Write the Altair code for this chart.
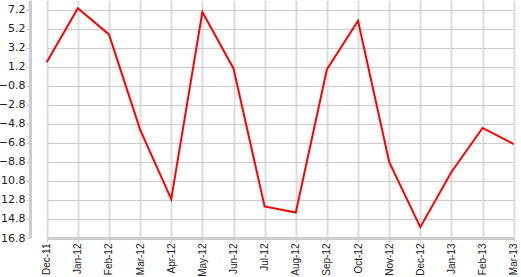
import altair as alt
import pandas as pd

months = ["Dec-11", "Jan-12", "Feb-12", "Mar-12", "Apr-12", "May-12", "Jun-12", "Jul-12",
          "Aug-12", "Sep-12", "Oct-12", "Nov-12", "Dec-12", "Jan-13", "Feb-13", "Mar-13"]
values = [1.67, 7.33, 4.59, -5.41, -12.72, 6.94, 1.01, -13.48,
          -14.12, 0.9, 6.02, -8.8, -15.66, -9.87, -5.24, -6.93]
y_ticks = [7.2, 5.2, 3.2, 1.2, -0.8, -2.8, -4.8, -6.8, -8.8, -10.8, -12.8, -14.8, -16.8]

df = pd.DataFrame({"month": months, "value": values})

chart = alt.Chart(df).mark_line(color="#ff0000", strokeWidth=2).encode(
    x=alt.X("month:N", sort=months, title=None,
            scale=alt.Scale(type="point", padding=0, range=[16.7, 483.7]),
            axis=alt.Axis(labelAngle=-90, grid=True, gridColor="#dddddd", gridWidth=2,
                          domainColor="#cccccc", domainWidth=3, tickColor="#cccccc",
                          tickSize=4, labelFont="Liberation Sans", labelFontSize=10,
                          labelColor="#222222", labelPadding=1)),
    y=alt.Y("value:Q", title=None,
            scale=alt.Scale(domain=[-16.8, 8.2], nice=False, zero=False),
            axis=alt.Axis(values=y_ticks, format=".1f", grid=True, gridColor="#cccccc",
                          gridWidth=1, domainColor="#cccccc", domainWidth=3,
                          tickColor="#cccccc", tickSize=4, labelFont="DejaVu Sans",
                          labelFontSize=11, labelColor="#222222", labelPadding=1)),
).properties(
    width=491, height=238,
    autosize=alt.AutoSizeParams(type="none"),
    padding={"left": 30, "top": 0, "right": 0, "bottom": 39},
).configure_view(stroke=None)

chart.save("out.html", embed_options={"renderer": "svg", "actions": False})
